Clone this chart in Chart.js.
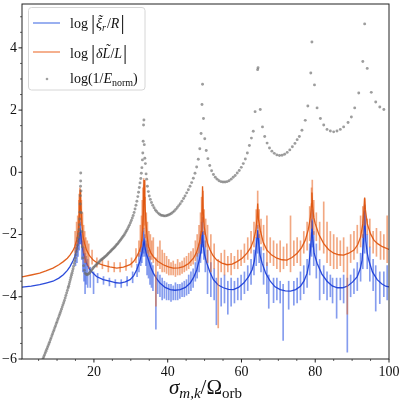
<!DOCTYPE html>
<html><head><meta charset="utf-8">
<script src="https://cdn.jsdelivr.net/npm/chart.js@4.4.1/dist/chart.umd.min.js"></script>
<style>html,body{margin:0;padding:0;background:#fff}#wrap{width:400px;height:400px;position:relative}</style>
</head><body><div id="wrap"><canvas id="c"></canvas></div>
<script>
// ---- axis ticks ----
const xMajorTicks = [20, 40, 60, 80, 100];
const xMinorTicks = [5, 10, 15, 25, 30, 35, 45, 50, 55, 65, 70, 75, 85, 90, 95];
const yMajorTicks = [-6, -4, -2, 0, 2, 4];
const yMinorTicks = [-5.5, -5, -4.5, -3.5, -3, -2.5, -1.5, -1, -0.5, 0.5, 1, 1.5, 2.5, 3, 3.5, 4.5, 5];

// ---- log(1/E_norm) points [x, y] ----
const energyPts = [
[6.0,-6.05],[6.2,-5.99],[6.4,-5.93],[6.6,-5.87],[6.8,-5.81],[7.0,-5.75],[7.2,-5.69],[7.4,-5.63],[7.6,-5.57],[7.8,-5.51],
[8.0,-5.45],[8.2,-5.38],[8.4,-5.32],[8.6,-5.25],[8.8,-5.19],[9.0,-5.12],[9.2,-5.06],[9.4,-4.99],[9.6,-4.93],[9.8,-4.86],
[10.0,-4.80],[10.2,-4.73],[10.4,-4.67],[10.6,-4.60],[10.8,-4.54],[11.0,-4.47],[11.2,-4.40],[11.4,-4.33],[11.6,-4.26],[11.8,-4.19],
[12.0,-4.12],[12.2,-4.04],[12.4,-3.96],[12.6,-3.88],[12.8,-3.80],[13.0,-3.72],[13.15,-3.66],[13.3,-3.59],[13.45,-3.52],[13.6,-3.45],
[13.75,-3.38],[13.9,-3.31],[14.05,-3.24],[14.2,-3.17],[14.35,-3.10],[14.5,-3.02],[14.65,-2.93],[14.8,-2.84],[14.95,-2.75],[15.1,-2.65],
[15.25,-2.55],[15.4,-2.45],[15.55,-2.34],[15.7,-2.21],[15.8,-2.10],[15.9,-1.98],[16.0,-1.84],[16.08,-1.68],[16.15,-1.50],[16.22,-1.28],
[16.28,-1.02],[16.33,-0.75],[16.37,-0.45],[16.4,-0.28],[16.42,-0.02],
[16.5,-0.6],[16.6,-1.3],[16.7,-1.9],[16.85,-2.4],[17.0,-2.75],[17.2,-3.0],[17.4,-3.15],[17.65,-3.24],[17.9,-3.28],[18.15,-3.29],
[18.4,-3.28],[18.65,-3.25],[18.9,-3.22],[19.15,-3.18],[19.4,-3.14],[19.65,-3.10],[19.9,-3.06],[20.15,-3.03],[20.4,-3.0],[20.65,-2.97],
[20.9,-2.94],[21.15,-2.91],[21.4,-2.88],[21.65,-2.85],[21.9,-2.82],[22.15,-2.80],[22.4,-2.77],[22.65,-2.75],[22.9,-2.72],[23.15,-2.70],
[23.4,-2.67],[23.65,-2.64],[23.9,-2.61],[24.15,-2.58],[24.4,-2.55],[24.65,-2.52],[24.9,-2.49],[25.15,-2.46],[25.4,-2.43],[25.65,-2.40],
[25.9,-2.37],[26.15,-2.33],[26.4,-2.30],[26.65,-2.26],[26.9,-2.22],[27.15,-2.18],[27.4,-2.14],[27.65,-2.10],[27.9,-2.06],[28.15,-2.02],
[28.4,-1.97],[28.65,-1.92],[28.9,-1.87],[29.15,-1.81],[29.4,-1.75],[29.65,-1.69],[29.9,-1.62],[30.15,-1.55],[30.4,-1.47],[30.65,-1.39],
[30.9,-1.29],[31.15,-1.18],[31.4,-1.06],[31.65,-0.93],[31.9,-0.78],[32.1,-0.64],[32.3,-0.49],[32.5,-0.34],[32.7,-0.20],[32.85,-0.03],
[33.0,0.15],[33.15,0.40],[33.25,0.62],[33.35,1.0],[33.45,1.52],
[33.55,1.68],[33.65,0.89],[33.8,0.45],[33.95,0.28],[34.15,-0.05],[34.3,-0.22],[34.5,-0.45],[34.75,-0.62],[35.0,-0.76],[35.3,-0.87],
[35.6,-0.97],[35.95,-1.06],[36.3,-1.14],[36.65,-1.21],[37.0,-1.26],[37.4,-1.31],[37.8,-1.35],[38.2,-1.38],[38.6,-1.39],[39.0,-1.40],
[39.4,-1.40],[39.8,-1.39],[40.2,-1.37],[40.6,-1.35],[41.0,-1.32],[41.4,-1.28],[41.8,-1.24],[42.2,-1.19],[42.6,-1.13],[43.0,-1.07],
[43.4,-1.01],[43.85,-0.93],[44.3,-0.84],[44.7,-0.76],[45.15,-0.66],[45.6,-0.56],[46.05,-0.45],[46.5,-0.33],[46.95,-0.19],[47.4,-0.03],
[47.85,0.17],[48.3,0.42],[48.7,0.76],[49.05,1.25],[49.3,2.18],[49.45,2.83],
[49.7,1.73],[50.05,1.08],[50.45,0.70],[50.9,0.44],[51.4,0.22],[51.9,0.05],[52.4,-0.07],[52.9,-0.16],[53.4,-0.22],[53.9,-0.27],
[54.45,-0.30],[55.0,-0.31],[55.55,-0.31],[56.1,-0.30],[56.65,-0.27],[57.2,-0.22],[57.75,-0.16],[58.3,-0.10],[58.85,-0.02],[59.4,0.06],
[59.95,0.16],[60.5,0.28],[61.05,0.43],[61.6,0.62],[62.15,0.86],[62.7,1.10],[63.2,1.32],[63.7,1.95],[64.38,3.30],[64.5,3.36],
[65.1,2.02],[65.7,1.46],[66.3,1.15],[66.95,0.94],[67.6,0.78],[68.25,0.68],[68.9,0.61],[69.6,0.56],[70.3,0.54],[71.0,0.55],
[71.7,0.58],[72.4,0.64],[73.1,0.72],[73.8,0.82],[74.5,0.93],[75.1,1.05],[75.7,1.15],[76.4,1.35],[77.3,1.67],[78.0,2.13],
[78.8,3.19],[79.1,4.19],
[79.8,2.81],[80.5,2.07],[81.4,1.73],[82.3,1.52],[83.2,1.38],[84.1,1.33],[85.0,1.30],[85.9,1.33],[86.8,1.38],[87.7,1.46],
[88.9,1.60],[89.8,1.78],[90.7,2.07],[91.8,2.55],[92.9,3.56],[93.4,4.77],[94.1,3.34],[95.2,2.57],[96.4,2.26],[97.5,2.10],[98.6,2.02]
];

// ---- log|dL/L| smooth part [x, y] ----
const orangeBase = [
[0.5,-3.36],[3,-3.30],[5.3,-3.24],[7,-3.17],[8.9,-3.08],[10.5,-2.97],[11.7,-2.87],[12.8,-2.76],[13.5,-2.66],[14.3,-2.52],
[14.8,-2.39],[15.4,-2.15],[15.8,-1.85],[16.1,-1.3],[16.3,-0.55],[16.5,-1.2],[16.8,-1.75],[17.1,-2.08],[17.5,-2.3],[18.0,-2.50],
[18.8,-2.68],[19.8,-2.82],[21,-2.92],[22.5,-2.98],[24.3,-3.04],[26.2,-3.08],[28,-3.05],[29.8,-2.97],[30.8,-2.86],[31.6,-2.71],
[32.2,-2.56],[32.7,-2.39],[33.0,-2.15],[33.2,-1.86],[33.4,-1.3],[33.6,-0.25],[33.8,-1.0],[34.1,-1.6],[34.4,-2.05],[34.8,-2.39],
[35.4,-2.58],[36.1,-2.71],[37.3,-2.86],[38.8,-2.97],[40.2,-3.04],[41.5,-3.08],[43,-3.07],[44.3,-3.03],[45.7,-2.93],[47.0,-2.76],
[47.8,-2.58],[48.3,-2.39],[48.8,-2.15],[49.1,-1.9],[49.3,-1.3],[49.45,-0.45],[49.6,-1.2],[49.9,-1.75],[50.2,-1.97],[50.8,-2.28],
[51.5,-2.50],[52.3,-2.68],[53.3,-2.82],[54.7,-2.92],[56.1,-2.97],[57.5,-2.95],[58.8,-2.87],[60.2,-2.76],[61.5,-2.60],[62.5,-2.42],
[63.3,-2.18],[63.9,-1.86],[64.2,-1.5],[64.4,-1.0],[64.6,-1.5],[65.1,-1.86],[65.9,-2.25],[66.9,-2.50],[68.2,-2.66],[69.6,-2.76],
[71,-2.81],[72.3,-2.82],[73.7,-2.74],[75.1,-2.60],[76.3,-2.42],[77.3,-2.18],[78.1,-1.85],[78.7,-1.44],[79.0,-1.0],[79.1,-0.65],
[79.3,-1.1],[79.6,-1.45],[80.0,-1.65],[81,-2.0],[82.3,-2.29],[83.6,-2.48],[85.0,-2.60],[86.4,-2.65],[87.7,-2.66],[89.1,-2.60],
[90.5,-2.50],[91.5,-2.33],[92.3,-2.08],[92.9,-1.65],[93.2,-1.2],[93.4,-0.81],[93.6,-1.2],[94.1,-1.65],[95,-1.98],[95.9,-2.18],
[97,-2.30],[98.2,-2.39],[100,-2.48]
];

// ---- log|xi_r/R| smooth part [x, y] ----
const blueBase = [
[0.5,-3.69],[3,-3.66],[5.3,-3.61],[7,-3.56],[8.9,-3.50],[10.5,-3.40],[11.7,-3.29],[12.8,-3.15],[13.5,-3.03],[14.3,-2.85],
[14.8,-2.71],[15.4,-2.45],[15.8,-2.2],[16.1,-2.0],[16.3,-1.9],[16.5,-2.05],[16.8,-2.35],[17.3,-2.65],[18.0,-2.92],[19,-3.15],
[20.7,-3.35],[22.5,-3.45],[24.3,-3.50],[26,-3.55],[27.1,-3.56],[28.5,-3.52],[29.8,-3.45],[30.8,-3.32],[31.6,-3.13],[32.4,-2.88],
[33.0,-2.60],[33.3,-2.4],[33.6,-2.2],[33.9,-2.45],[34.3,-2.65],[34.8,-2.82],[35.4,-3.05],[36.1,-3.24],[37,-3.42],[37.9,-3.56],
[39.3,-3.70],[40.7,-3.77],[42,-3.79],[43.4,-3.77],[44.8,-3.70],[46.1,-3.56],[47.1,-3.36],[47.9,-3.13],[48.6,-2.8],[49.1,-2.5],
[49.4,-1.9],[49.6,-2.3],[50.0,-2.65],[50.6,-2.92],[51.5,-3.22],[52.4,-3.45],[53.7,-3.62],[55.1,-3.71],[56.5,-3.76],[57.8,-3.77],
[59.2,-3.70],[60.6,-3.56],[61.9,-3.36],[62.9,-3.13],[63.5,-2.85],[63.9,-2.50],[64.2,-2.15],[64.4,-1.86],[64.7,-2.3],[65.0,-2.65],
[65.6,-2.92],[66.6,-3.25],[67.8,-3.50],[69.1,-3.68],[70.5,-3.77],[71.9,-3.81],[73.3,-3.82],[74.7,-3.77],[76,-3.66],[77,-3.48],
[77.8,-3.24],[78.3,-2.95],[78.7,-2.50],[79.0,-1.95],[79.1,-1.55],[79.3,-2.1],[79.7,-2.6],[80.5,-2.92],[81.8,-3.27],[83.2,-3.50],
[84.6,-3.65],[86.0,-3.71],[87.4,-3.71],[88.7,-3.66],[90.1,-3.53],[91.4,-3.35],[92.2,-3.1],[92.7,-2.82],[93.1,-2.2],[93.4,-1.23],
[93.7,-2.2],[94.1,-2.6],[94.5,-2.82],[95.5,-3.2],[96.8,-3.45],[98,-3.58],[99.1,-3.66],[100,-3.68]
];

// ---- spikes [x, low, high] ----
const orangeSpikes = [
[14.9,-2.6,-1.9],[15.3,-2.5,-1.6],[15.6,-2.3,-1.4],[15.9,-2.1,-0.9],[16.0,-1.9,-0.7],[16.2,-1.6,-0.5],[16.4,-1.5,-0.6],[16.6,-1.7,-0.9],
[16.9,-2.4,-1.3],[17.2,-2.6,-1.7],[17.5,-2.9,-1.9],[17.8,-2.9,-2.1],[18.2,-3.0,-2.2],[18.6,-3.1,-2.3],
[19.5,-2.95,-2.5],[20.8,-3.05,-2.75],[22.3,-3.1,-2.8],[23.9,-3.2,-2.85],[25.5,-3.2,-2.9],[27.1,-3.2,-2.9],[28.7,-3.15,-2.8],[30.2,-3.05,-2.75],[31.4,-2.9,-2.45],
[32.2,-2.7,-2.2],[32.6,-2.55,-1.7],[32.9,-2.4,-1.4],[33.1,-2.2,-0.9],[33.3,-1.9,-0.5],[33.5,-1.8,-0.2],[33.7,-1.7,-0.4],[33.9,-2.1,-0.8],[34.2,-2.4,-1.3],
[34.5,-2.6,-1.6],[34.9,-2.7,-1.9],[35.3,-2.8,-2.0],[35.7,-2.8,-2.2],[36.1,-2.9,-2.1],[36.8,-4.3,-2.75],[37.3,-3.0,-2.4],[37.9,-3.1,-2.2],
[38.5,-3.2,-2.5],[39.1,-3.2,-2.6],[39.7,-3.25,-2.7],[40.3,-3.3,-2.8],[40.9,-3.3,-2.9],[41.5,-3.3,-2.85],[42.1,-3.35,-2.95],[42.7,-3.3,-2.8],
[43.3,-3.3,-2.9],[43.9,-3.25,-2.85],[44.5,-3.2,-2.75],[45.1,-3.15,-2.7],[45.7,-3.1,-2.6],[46.3,-3.0,-2.55],[46.9,-2.95,-2.45],[47.5,-2.85,-2.2],
[48.0,-2.7,-2.0],[48.5,-2.6,-1.7],[48.9,-2.3,-1.3],[49.2,-2.0,-0.8],[49.6,-1.6,-0.6],[49.9,-2.0,-1.2],[50.3,-2.4,-1.5],
[50.8,-2.9,-1.7],[51.7,-3.2,-2.0],[52.6,-3.1,-2.3],[53.7,-5.0,-2.8],[54.5,-3.2,-2.6],[55.4,-3.3,-2.5],[56.3,-3.2,-2.7],[57.2,-3.3,-2.6],
[58.1,-3.1,-2.7],[59.0,-3.1,-2.5],[59.9,-3.0,-2.5],[60.8,-2.9,-2.3],[61.7,-2.8,-2.1],[62.6,-2.6,-1.9],[63.4,-2.4,-1.6],[64.0,-2.1,-1.2],
[64.4,-1.8,-0.6],[64.8,-2.1,-1.2],[65.3,-2.3,-1.5],[66.0,-2.5,-1.7],[66.9,-3.0,-1.4],[67.8,-2.9,-2.1],[68.7,-3.0,-2.2],[69.6,-3.1,-2.3],
[70.5,-3.2,-2.2],[71.4,-3.1,-2.4],[72.3,-3.0,-2.3],[73.3,-3.2,-1.4],[74.2,-3.0,-2.2],[75.1,-2.9,-2.1],[76.0,-3.0,-2.2],[76.9,-2.6,-1.9],
[77.8,-2.5,-1.6],[78.5,-2.2,-1.1],[79.0,-1.8,-0.5],[79.2,-1.5,-0.25],[79.6,-2.0,-0.9],[80.3,-2.2,-1.3],[81.2,-2.5,-1.6],[82.3,-2.6,-0.95],
[83.2,-2.9,-1.6],[84.1,-3.0,-1.9],[85.0,-3.1,-2.0],[85.9,-3.1,-2.1],[86.8,-3.0,-2.2],[87.7,-3.2,-2.1],[88.7,-4.56,-2.4],[89.6,-2.9,-2.0],
[90.5,-2.8,-1.9],[91.4,-2.6,-1.7],[92.3,-2.4,-1.4],[92.9,-2.1,-1.1],[93.4,-1.7,-0.85],[94.1,-2.0,-1.5],[94.8,-2.4,-1.5],[95.7,-2.6,-1.9],
[96.6,-2.7,-1.8],[97.7,-2.8,-1.9],[98.6,-2.8,-2.0],[99.5,-2.9,-1.4]
];
const blueSpikes = [
[15.0,-3.0,-2.4],[15.4,-2.9,-2.1],[15.7,-2.7,-1.9],[16.0,-2.5,-1.7],[16.2,-2.3,-1.5],[16.4,-2.3,-1.6],[16.7,-2.8,-1.9],[17.0,-3.2,-2.2],
[17.3,-3.5,-2.4],[17.6,-3.9,-2.6],[17.9,-3.6,-2.7],[18.3,-3.7,-2.8],
[19.0,-3.7,-3.05],[19.9,-3.9,-3.2],[21.0,-3.55,-3.25],[22.6,-3.6,-3.35],[24.2,-3.65,-3.4],[25.8,-3.7,-3.45],[27.4,-3.7,-3.45],[29.0,-3.65,-3.35],[30.5,-3.55,-3.2],[31.7,-3.35,-2.95],
[32.2,-3.2,-2.6],[32.7,-3.0,-2.4],
[33.0,-2.9,-2.2],[33.3,-2.7,-1.9],[33.5,-2.6,-1.8],[33.8,-2.7,-2.0],[34.1,-3.0,-2.2],[34.4,-3.3,-2.3],[34.8,-3.4,-2.5],[35.2,-3.6,-2.7],
[35.6,-3.7,-2.9],[36.0,-3.8,-3.0],[36.8,-5.04,-3.3],[37.3,-3.9,-3.2],[37.9,-4.0,-3.3],[38.5,-4.1,-3.4],[39.1,-4.05,-3.5],[39.7,-4.1,-3.55],
[40.3,-4.1,-3.6],[40.9,-4.15,-3.6],[41.5,-4.1,-3.65],[42.1,-4.1,-3.55],[42.7,-4.1,-3.6],[43.3,-4.05,-3.6],[43.9,-4.0,-3.55],[44.5,-4.0,-3.5],
[45.1,-3.95,-3.45],[45.7,-3.9,-3.3],[46.3,-3.8,-3.2],[46.9,-3.7,-3.1],[47.5,-3.5,-2.9],[48.0,-3.4,-2.6],[48.5,-3.2,-2.3],[48.9,-2.9,-2.0],
[49.2,-2.6,-1.6],[49.5,-2.4,-1.45],[49.8,-2.8,-1.9],[50.2,-3.2,-2.2],
[50.8,-3.9,-2.5],[51.7,-4.0,-2.9],[52.6,-4.1,-3.1],[53.2,-4.9,-3.4],[54.5,-4.3,-3.4],[55.4,-4.2,-3.3],[56.3,-4.56,-3.5],[57.2,-4.3,-3.4],
[58.1,-4.2,-3.5],[59.0,-4.1,-3.4],[59.9,-4.1,-3.3],[60.8,-3.9,-3.2],[61.7,-3.8,-3.0],[62.6,-3.6,-2.8],[63.4,-3.3,-2.5],[64.0,-3.0,-2.1],
[64.4,-2.6,-1.7],[64.8,-2.9,-2.0],[65.3,-3.2,-2.4],[66.0,-3.6,-2.6],[66.9,-3.9,-2.9],[67.4,-4.37,-3.3],[68.7,-4.19,-3.4],[69.6,-4.1,-3.4],
[70.5,-4.2,-3.5],[71.3,-5.4,-3.6],[72.8,-4.4,-3.5],[74.2,-4.27,-3.5],[75.1,-4.2,-3.4],[76.0,-4.1,-3.2],[76.9,-3.9,-3.0],[77.8,-3.7,-2.8],
[78.5,-3.3,-2.3],[79.0,-2.7,-1.5],[79.2,-2.4,-1.2],[79.6,-3.0,-1.9],[80.3,-3.4,-2.3],[81.2,-4.1,-2.8],[82.3,-3.9,-3.0],[83.2,-4.1,-3.2],
[84.1,-4.0,-3.3],[84.7,-4.2,-3.4],[85.8,-4.69,-3.4],[86.8,-4.1,-3.4],[87.7,-4.2,-3.3],[88.7,-5.78,-3.4],[89.6,-4.0,-3.3],[90.5,-3.9,-3.1],
[91.4,-3.8,-2.9],[92.3,-3.5,-2.6],[92.9,-3.1,-2.0],[93.4,-2.6,-1.05],[94.1,-3.1,-2.0],[94.8,-3.5,-2.4],[95.7,-3.8,-2.8],[96.4,-4.46,-3.0],
[97.5,-4.22,-3.2],[98.6,-4.0,-3.2],[99.5,-4.1,-3.0]
];

const SERIF = '"Liberation Serif", "DejaVu Serif", serif';
const toXY = a => a.map(p => ({x: p[0], y: p[1]}));
const toBar = a => a.map(p => ({x: p[0], y: [p[1], p[2]]}));
const fmt = v => (v < 0 ? '\u2212' + Math.abs(v) : String(v));

function drawParts(ctx, x, y, parts) {
  let cx = x;
  for (const p of parts) {
    ctx.font = p.f;
    const w = ctx.measureText(p.t).width;
    ctx.fillText(p.t, cx, y + (p.dy || 0));
    if (p.tilde) {
      const tw = ctx.measureText('\u02DC').width;
      ctx.fillText('\u02DC', cx + w / 2 - tw / 2 + (p.tx || 0), y - p.tilde);
    }
    cx += w + (p.gap || 0);
  }
  return cx;
}
function partsWidth(ctx, parts) {
  let w = 0;
  for (const p of parts) { ctx.font = p.f; w += ctx.measureText(p.t).width + (p.gap || 0); }
  return w;
}

const decor = {
  id: 'decor',
  afterDraw(chart) {
    const ctx = chart.ctx;
    const a = chart.chartArea;
    const xs = chart.scales.x, ys = chart.scales.y;
    ctx.save();
    // frame
    ctx.strokeStyle = '#222';
    ctx.lineWidth = 1;
    ctx.strokeRect(a.left, a.top, a.right - a.left, a.bottom - a.top);
    // ticks
    ctx.beginPath();
    for (const v of xMajorTicks) { const p = xs.getPixelForValue(v); ctx.moveTo(p, a.bottom); ctx.lineTo(p, a.bottom + 3.5); }
    for (const v of yMajorTicks) { const p = ys.getPixelForValue(v); ctx.moveTo(a.left, p); ctx.lineTo(a.left - 3.5, p); }
    ctx.stroke();
    ctx.lineWidth = 0.7;
    ctx.beginPath();
    for (const v of xMinorTicks) { const p = xs.getPixelForValue(v); ctx.moveTo(p, a.bottom); ctx.lineTo(p, a.bottom + 2); }
    for (const v of yMinorTicks) { const p = ys.getPixelForValue(v); ctx.moveTo(a.left, p); ctx.lineTo(a.left - 2, p); }
    ctx.stroke();

    // legend box
    ctx.beginPath();
    ctx.roundRect(28.5, 7.5, 116.5, 82.5, 3);
    ctx.fillStyle = 'rgba(255,255,255,0.8)';
    ctx.fill();
    ctx.strokeStyle = '#d6d6d6';
    ctx.lineWidth = 1;
    ctx.stroke();
    ctx.lineWidth = 1.5;
    ctx.strokeStyle = 'rgba(120,150,235,1)';
    ctx.beginPath(); ctx.moveTo(33, 23); ctx.lineTo(60, 23); ctx.stroke();
    ctx.strokeStyle = 'rgba(242,150,105,1)';
    ctx.beginPath(); ctx.moveTo(33, 52); ctx.lineTo(60, 52); ctx.stroke();
    ctx.fillStyle = 'rgba(150,150,150,0.9)';
    ctx.beginPath(); ctx.arc(47, 79, 1.3, 0, Math.PI * 2); ctx.fill();

    ctx.fillStyle = '#111';
    ctx.textBaseline = 'alphabetic';
    ctx.textAlign = 'left';
    const R = '14px ' + SERIF, I = 'italic 14px ' + SERIF, B = '21px ' + SERIF;
    const SI = 'italic 10px ' + SERIF, SR = '10px ' + SERIF;
    drawParts(ctx, 70, 28, [
      {t: 'log', f: R, gap: 3}, {t: '|', f: B, dy: 1, gap: 1}, {t: '\u03BE', f: I, tilde: 3, tx: 1}, {t: 'r', f: SI, dy: 3, gap: 1},
      {t: '/', f: R}, {t: 'R', f: I, gap: 1}, {t: '|', f: B, dy: 1}
    ]);
    drawParts(ctx, 70, 58, [
      {t: 'log', f: R, gap: 3}, {t: '|', f: B, dy: 1, gap: 1}, {t: '\u03B4', f: I}, {t: 'L', f: I, tilde: 4.5, tx: 1},
      {t: '/', f: R}, {t: 'L', f: I, gap: 1}, {t: '|', f: B, dy: 1}
    ]);
    drawParts(ctx, 70, 83, [
      {t: 'log(1/', f: R}, {t: 'E', f: I}, {t: 'norm', f: SR, dy: 3}, {t: ')', f: R}
    ]);

    // x-axis title
    const T = '21px ' + SERIF, TI = 'italic 21px ' + SERIF, TS = '15px ' + SERIF, TSI = 'italic 15px ' + SERIF;
    const tparts = [
      {t: '\u03C3', f: TI}, {t: 'm,k', f: TSI, dy: 4}, {t: '/', f: T}, {t: '\u03A9', f: T}, {t: 'orb', f: TS, dy: 4}
    ];
    const w = partsWidth(ctx, tparts);
    drawParts(ctx, (a.left + a.right) / 2 - w / 2, 394, tparts);
    ctx.restore();
  }
};

new Chart(document.getElementById('c'), {
  type: 'line',
  data: {
    datasets: [
      {type: 'scatter', label: 'log(1/E_norm)', data: toXY(energyPts), showLine: false,
       pointRadius: 1.45, pointBorderWidth: 0, pointBackgroundColor: 'rgba(110,110,110,0.68)', order: 0},
      {type: 'line', label: 'log|dL/L| base', data: toXY(orangeBase), borderColor: 'rgba(222,84,12,0.92)',
       borderWidth: 1.3, pointRadius: 0, tension: 0, order: 1},
      {type: 'bar', label: 'log|dL/L| spikes', data: toBar(orangeSpikes), backgroundColor: 'rgba(232,105,40,0.58)',
       borderWidth: 0, barThickness: 1, grouped: false, order: 2},
      {type: 'line', label: 'log|xi/R| base', data: toXY(blueBase), borderColor: 'rgba(25,60,215,0.92)',
       borderWidth: 1.3, pointRadius: 0, tension: 0, order: 3},
      {type: 'bar', label: 'log|xi/R| spikes', data: toBar(blueSpikes), backgroundColor: 'rgba(45,85,225,0.58)',
       borderWidth: 0, barThickness: 1, grouped: false, order: 4}
    ]
  },
  options: {
    responsive: true, maintainAspectRatio: false, animation: false, events: [],
    layout: {padding: {top: 1, right: 0, left: 0, bottom: 0}},
    plugins: {legend: {display: false}, tooltip: {enabled: false}},
    scales: {
      x: {type: 'linear', min: 0.5, max: 100, offset: false,
          grid: {display: false, drawTicks: false}, border: {display: false},
          afterBuildTicks: s => { s.ticks = xMajorTicks.map(v => ({value: v})); },
          afterFit: s => { s.height = 41; s.paddingLeft = 0; s.paddingRight = 11; },
          ticks: {padding: 5, color: '#111', maxRotation: 0, autoSkip: false, font: {family: SERIF, size: 14},
                  callback: v => fmt(v)}},
      y: {type: 'linear', min: -6, max: 5.41,
          grid: {display: false, drawTicks: false}, border: {display: false},
          afterBuildTicks: s => { s.ticks = yMajorTicks.map(v => ({value: v})); },
          afterFit: s => { s.width = 22; s.paddingTop = 0; s.paddingBottom = 0; },
          ticks: {padding: 5, color: '#111', autoSkip: false, font: {family: SERIF, size: 14},
                  callback: v => fmt(v)}}
    }
  },
  plugins: [decor]
});
</script>
</body></html>
